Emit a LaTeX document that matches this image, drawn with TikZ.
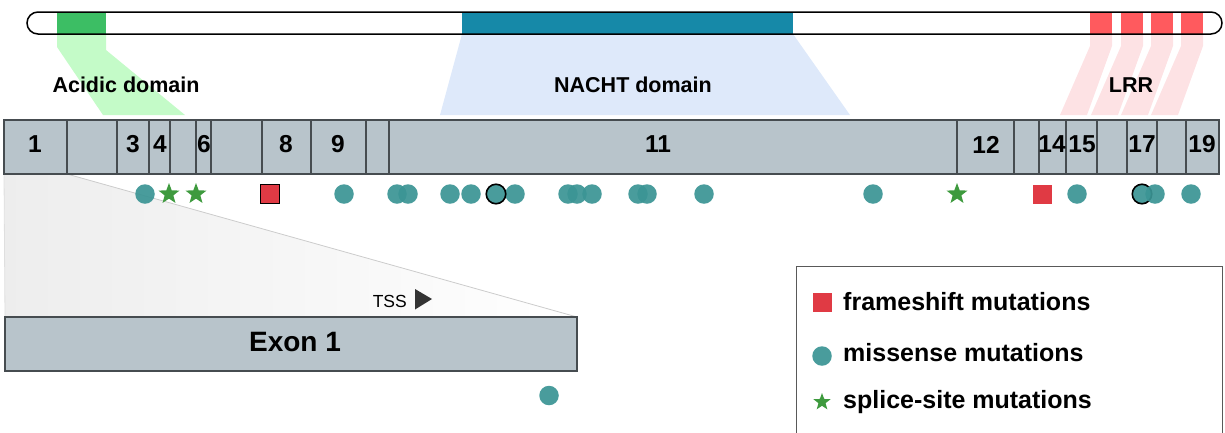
\documentclass[tikz,border=0pt]{standalone}
\usepackage{fontspec}
\setmainfont{Liberation Sans}
\usepackage{tikz}
\usetikzlibrary{shapes.geometric,positioning}
\definecolor{exfill}{HTML}{B8C4CB}
\definecolor{exline}{HTML}{464C50}
\definecolor{acid}{HTML}{3CBE64}
\definecolor{acidlt}{HTML}{C4FBC8}
\definecolor{nacht}{HTML}{1689A8}
\definecolor{nachtlt}{HTML}{DEE9FA}
\definecolor{lrr}{HTML}{FF5A5E}
\definecolor{lrrlt}{HTML}{FDE2E4}
\definecolor{miss}{HTML}{3A9494}
\definecolor{fshift}{HTML}{E03A44}
\definecolor{splice}{HTML}{3E9A3E}
\tikzset{
  exon/.style={draw=exline, fill=exfill, line width=1.2pt},
  exlbl/.style={font=\fontsize{24.5}{25}\selectfont\bfseries, inner sep=0pt},
  dom/.style={font=\fontsize{21.5}{22}\selectfont\bfseries, inner sep=0pt},
  missense/.style={circle, fill=miss, fill opacity=0.92, minimum size=19.5pt, inner sep=0pt},
  hit/.style={missense, draw=black, line width=1.6pt, draw opacity=1},
  fs/.style={rectangle, fill=fshift, minimum size=19pt, inner sep=0pt},
  fsb/.style={fs, draw=black, line width=1.6pt},
  ss/.style={star, star points=5, star point ratio=2.4, fill=splice, minimum size=22pt, inner sep=0pt},
  key/.style={font=\fontsize{25}{25}\selectfont\bfseries, inner sep=0pt, anchor=base west}
}

\begin{document}
\begin{tikzpicture}[x=1pt, y=-1pt]
\useasboundingbox (0,0) rectangle (1225,432);

% protein with its domains
\fill[acidlt] (57,34) -- (106,34) -- (106,50) -- (185,115) -- (103,115) -- (57,47) -- cycle;
\fill[nachtlt] (462,34) -- (793,34) -- (850,115) -- (440,115) -- cycle;
\foreach \a/\b in {1090/1112,1121/1143,1151/1173,1181/1203}
  \fill[lrrlt] (\a,34) -- (\b,34) -- (\b,46) -- ({\b-25},115) -- ({\a-30},115) -- (\a,46) -- cycle;
\fill[acid] (57,12) rectangle (106,34);
\fill[nacht] (462,12) rectangle (793,34);
\foreach \a/\b in {1090/1112,1121/1143,1151/1173,1181/1203}
  \fill[lrr] (\a,12) rectangle (\b,34);
\draw[line width=1.5pt, rounded corners=11pt] (27,12) rectangle (1222,34);

\node[dom] (acidic) at (126,85) {Acidic domain};
\node[dom] (nachtd) at (633,85) {NACHT domain};
\node[dom] (lrrd) at (1131,85) {LRR};

% exon 1 blown up
\shade[left color=gray!14, right color=white] (4,174) -- (67,174) -- (577,317) -- (5,317) -- cycle;
\draw[gray!40, line width=0.8pt] (67,174) -- (577,317);
\draw[gray!25, line width=0.8pt] (4,174) -- (5,317);

% exons
\foreach \a/\b in {4/67,67/117,117/149,149/170,170/196,196/211,211/262,262/311,311/366,366/389,
  389/957,957/1014,1014/1039,1039/1066,1066/1097,1097/1127,1127/1157,1157/1186,1186/1219}
  \draw[exon] (\a,120) rectangle (\b,174);
\foreach \x/\t in {35/1,133/3,160/4,204/6,286/8,338/9,658/11,986/12,1052/14,1082/15,1142/17,1202/19}
  \node[exlbl] (e\t) at (\x,144.5) {\t};

\draw[exon] (5,317) rectangle (577,371);
\node[font=\fontsize{28}{28}\selectfont\bfseries, inner sep=0pt] (exon1) at (295,342) {Exon 1};
\node[font=\fontsize{17.5}{18}\selectfont, inner sep=0pt, anchor=base east] (tss) at (407,307.7) {TSS};
\fill[black!80] (415,289) -- (432,299) -- (415,309.5) -- cycle;

% mutations
\foreach \x [count=\i] in {145,344,397,408,450,471,515,568,577,592,638,647,704,873,1077}
  \node[missense] (m\i) at (\x,194) {};
\node[hit] (h1) at (496,194) {};
\node[hit] (h2) at (1142,194) {};
\node[missense] (m16) at (1155,194) {};
\node[missense] (m17) at (1191,194) {};
\node[missense] (m0) at (549,395.5) {};
\foreach \x [count=\i] in {169,196,957}
  \node[ss] (s\i) at (\x,194) {};
\node[fsb] (f1) at (270,194) {};
\node[fs] (f2) at (1042,194) {};

% legend
\draw[line width=1pt, black!65] (796,433) |- (1222,266) -- (1222,433);
\node[fs] (kfs) at (822,302) {};
\node[missense] (kms) at (822,356) {};
\node[ss, minimum size=18pt] (kss) at (822,402) {};
\node[key] (lfs) at (843,310) {frameshift mutations};
\node[key] (lms) at (843,361.5) {missense mutations};
\node[key] (lss) at (843,408.5) {splice-site mutations};
\end{tikzpicture}
\end{document}
